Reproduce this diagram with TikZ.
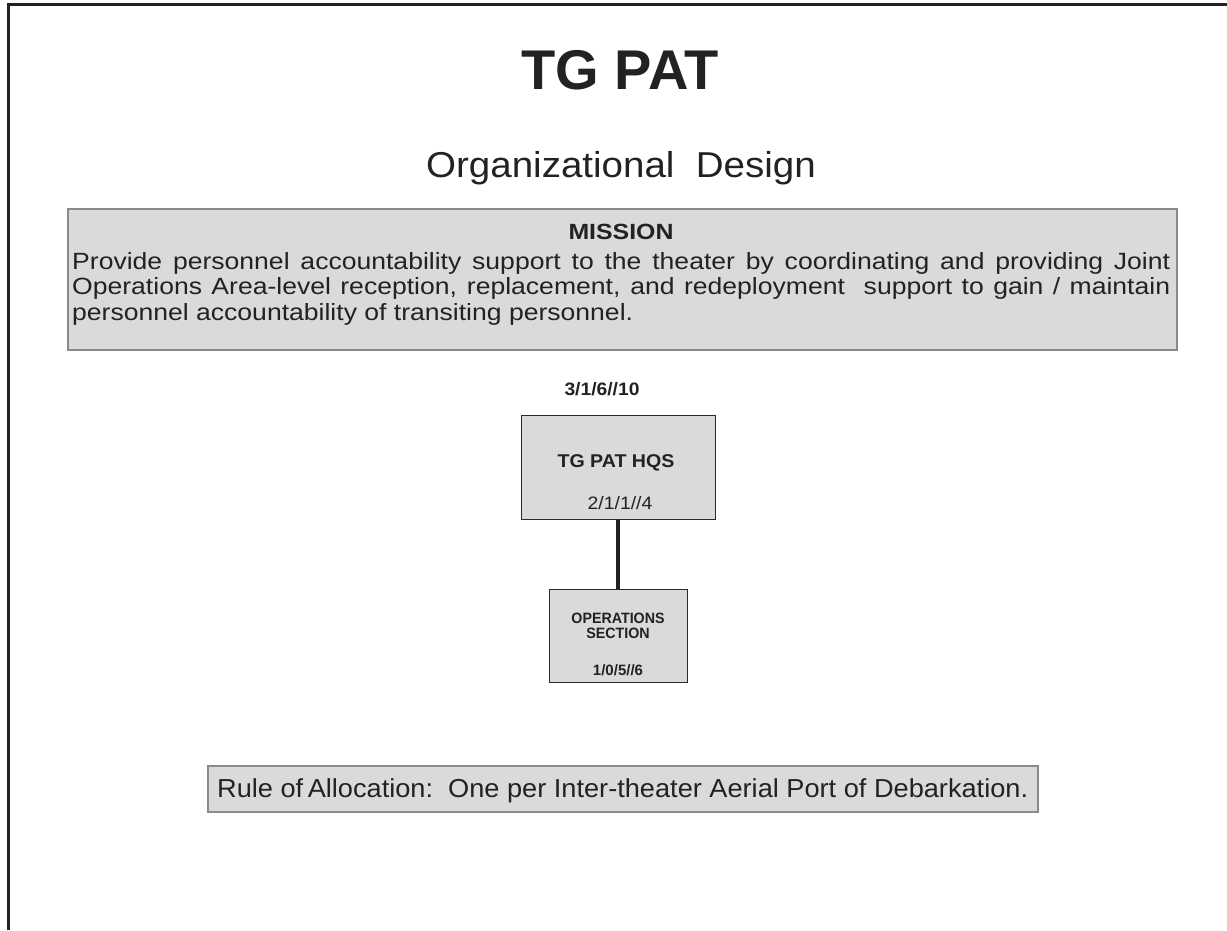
\documentclass[tikz,border=0pt]{standalone}
\usepackage{fontspec}
\setmainfont{Liberation Sans}
\definecolor{ink}{HTML}{222222}
\definecolor{boxfill}{HTML}{D9DADC}
\definecolor{lightedge}{HTML}{8A8A8A}
\definecolor{darkedge}{HTML}{2A2A2A}
\begin{document}
\begin{tikzpicture}[x=1pt,y=-1pt,
  greybox/.style={draw=lightedge, fill=boxfill, line width=1.5pt, inner sep=0pt, anchor=north west},
  orgbox/.style={draw=darkedge, fill=boxfill, line width=1.3pt, inner sep=0pt, anchor=north west},
  txt/.style={text=ink, inner sep=0pt, anchor=base}
]
\useasboundingbox (0,0) rectangle (1227,930);
% frame
\draw[ink, line width=3pt] (8,930) -- (8,4.5) -- (1227,4.5);
% titles
\node[txt, font=\fontsize{56}{60}\selectfont\bfseries] (title) at (620,89) {TG PAT};
\node[txt, font=\fontsize{36}{40}\selectfont] (subtitle) at (621,177) {\scalebox{1.07}[1]{Organizational\ \ Design}};
% mission box
\node[greybox, minimum width=1109pt, minimum height=141pt] (mission) at (67,208) {};
\node[txt, font=\fontsize{22}{24}\selectfont\bfseries] (mtitle) at (621,239) {\scalebox{1.13}[1]{MISSION}};
\node[txt, anchor=base west, font=\fontsize{23.5}{25}\selectfont] (m1) at (72,269)
  {\scalebox{1.13}[1]{\makebox[971.7pt][s]{Provide personnel accountability support to the theater by coordinating and providing Joint}}};
\node[txt, anchor=base west, font=\fontsize{23.5}{25}\selectfont] (m2) at (72,294.5)
  {\scalebox{1.13}[1]{\makebox[971.7pt][s]{Operations Area-level reception, replacement, and redeployment\ \ support to gain / maintain}}};
\node[txt, anchor=base west, font=\fontsize{23.5}{25}\selectfont] (m3) at (72,320)
  {\scalebox{1.13}[1]{personnel accountability of transiting personnel.}};
% org chart
\node[txt, font=\fontsize{18}{20}\selectfont\bfseries] (total) at (602,395) {\scalebox{1.07}[1]{3/1/6//10}};
\node[orgbox, minimum width=194pt, minimum height=104pt] (hq) at (521,415) {};
\node[txt, font=\fontsize{18.5}{20}\selectfont\bfseries] (hqname) at (616,467) {\scalebox{1.06}[1]{TG PAT HQS}};
\node[txt, font=\fontsize{18}{20}\selectfont] (hqnum) at (620,509) {\scalebox{1.08}[1]{2/1/1//4}};
\node[orgbox, minimum width=138pt, minimum height=93pt] (ops) at (549,589) {};
\node[txt, font=\fontsize{15}{15}\selectfont\bfseries] (opsname) at (618,623) {\scalebox{0.95}[1]{OPERATIONS}};
\node[txt, font=\fontsize{15}{15}\selectfont\bfseries] (opssec) at (618,638) {\scalebox{0.95}[1]{SECTION}};
\node[txt, font=\fontsize{15}{15}\selectfont\bfseries] (opsnum) at (618,675) {1/0/5//6};
\draw[ink, line width=3.5pt] (hq.south -| 618,0) -- (ops.north -| 618,0);
% rule of allocation
\node[greybox, minimum width=830pt, minimum height=46pt] (rule) at (207,765) {};
\node[txt, anchor=base west, font=\fontsize{26}{28}\selectfont] (ruletext) at (217,797)
  {\scalebox{1.045}[1]{Rule of\,Allocation:\ \ One per Inter-theater Aerial Port of Debarkation.}};
\end{tikzpicture}
\end{document}
